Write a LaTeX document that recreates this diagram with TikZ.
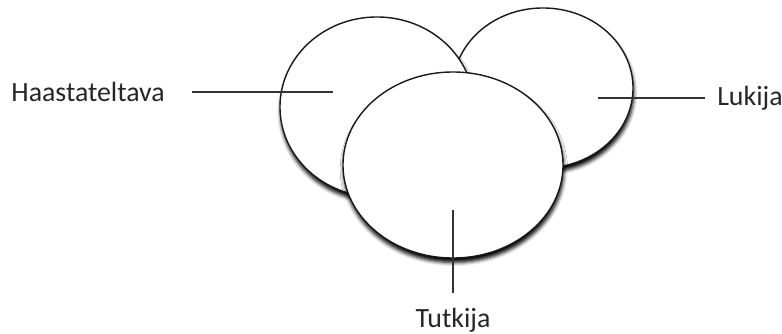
\documentclass[tikz,border=0pt]{standalone}
\usepackage{fontspec}
\setmainfont{Carlito}
\usepackage{tikz}
\usetikzlibrary{shapes.geometric,shadows.blur}
\definecolor{txtgray}{gray}{0.15}

\begin{document}
\begin{tikzpicture}[x=0.025cm,y=-0.025cm,
  role/.style={draw=black!90,line width=1pt,fill=white,ellipse,inner sep=0pt,
    blur shadow={shadow xshift=0.6pt,shadow yshift=-3.2pt,shadow blur radius=2.6pt,shadow opacity=100}},
  lbl/.style={font=\fontsize{19.8}{22}\selectfont,text=txtgray,inner ysep=0pt},
  pin/.style={draw=black!80,line width=0.75pt},
]
\useasboundingbox (0,0) rectangle (782,334);
% circles (back to front)
\node[role,minimum width=4.5cm,minimum height=4cm] (lukija) at (543,88) {};
\node[role,minimum width=4.85cm,minimum height=4.5cm] (haast) at (377,107) {};
\node[role,minimum width=5.5cm,minimum height=4.65cm] (tutkija) at (453,165) {};
% labels
\node[lbl,anchor=east,inner xsep=0.675cm] (haastlbl) at (192,92) {Haastateltava};
\node[lbl,anchor=west,inner xsep=0.3cm] (lukijalbl) at (705,98) {Lukija};
\node[lbl,anchor=north,inner ysep=0.36cm] (tutkijalbl) at (453,293) {Tutkija};
% pins into the circles
\coordinate (haastpt) at (333,92);
\coordinate (lukijapt) at (598,98);
\coordinate (tutkijapt) at (453,210);
\draw[pin] (haastlbl.east) -- (haastpt);
\draw[pin] (lukijalbl.west) -- (lukijapt);
\draw[pin] (tutkijalbl.north) -- (tutkijapt);
\end{tikzpicture}
\end{document}
